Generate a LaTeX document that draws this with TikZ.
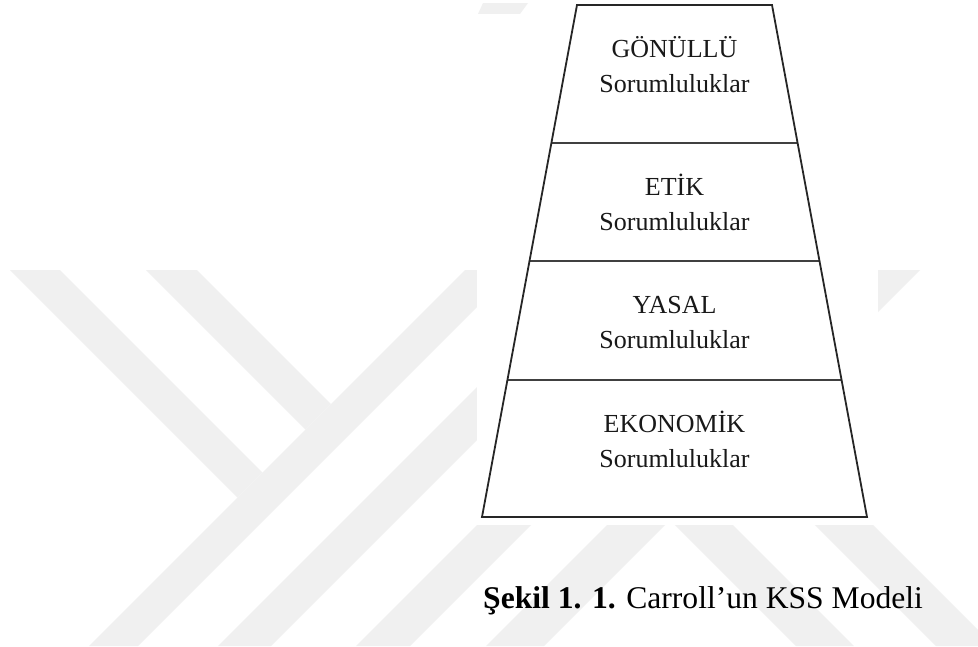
\documentclass[tikz,border=0pt]{standalone}
\usepackage{fontspec}
\setmainfont{Liberation Serif}
\begin{document}
\begin{tikzpicture}[x=1pt,y=-1pt,
  wm/.style={fill=black!6, draw=none},
  lbl/.style={font=\fontsize{26}{30}\selectfont, text=black!90, anchor=base, inner sep=0pt},
  edgeline/.style={draw=black!85, line width=1.8pt, line join=miter},
  divline/.style={draw=black!75, line width=2.2pt}]
\useasboundingbox (0,0) rectangle (978,646);
\fill[white] (0,0) rectangle (978,646);
% watermark
\begin{scope}
\clip (0,270) rectangle (978,646);
\fill[wm] (10,270) -- (60,270) -- (262.5,472.5) -- (237.5,497.5) -- cycle;
\fill[wm] (146,270) -- (197,270) -- (331,404) -- (305.5,429.5) -- cycle;
\fill[wm] (465,270) -- (514,270) -- (138,646) -- (89,646) -- cycle;
\fill[wm] (594,270) -- (647,270) -- (271,646) -- (218,646) -- cycle;
\fill[wm] (732,270) -- (786,270) -- (410,646) -- (356,646) -- cycle;
\fill[wm] (862,270) -- (920,270) -- (544,646) -- (486,646) -- cycle;
\fill[wm] (580,430) -- (638,430) -- (854,646) -- (796,646) -- cycle;
\fill[wm] (720,430) -- (778,430) -- (994,646) -- (936,646) -- cycle;
\end{scope}
\fill[wm] (483,3) -- (528,3) -- (520,14) -- (478,14) -- cycle;
\fill[white] (477,14) rectangle (878,525);
% pyramid
\coordinate (tl) at (577,5);
\coordinate (tr) at (772,5);
\coordinate (bl) at (482,517);
\coordinate (br) at (867,517);
\coordinate (l1) at (551.4,143);
\coordinate (r1) at (797.6,143);
\coordinate (l2) at (529.5,261);
\coordinate (r2) at (819.5,261);
\coordinate (l3) at (507.4,380);
\coordinate (r3) at (841.6,380);
\draw[divline] (l1) -- (r1);
\draw[divline] (l2) -- (r2);
\draw[divline] (l3) -- (r3);
\draw[edgeline] (tl) -- (tr) -- (br) -- (bl) -- cycle;
\node[lbl] (t1) at (674.5,57) {GÖNÜLLÜ};
\node[lbl] (s1) at (674.5,92) {Sorumluluklar};
\node[lbl] (t2) at (674.5,195.5) {ETİK};
\node[lbl] (s2) at (674.5,230.5) {Sorumluluklar};
\node[lbl] (t3) at (674.5,313.5) {YASAL};
\node[lbl] (s3) at (674.5,348.5) {Sorumluluklar};
\node[lbl] (t4) at (674.5,432) {EKONOMİK};
\node[lbl] (s4) at (674.5,467) {Sorumluluklar};
% caption
\node[anchor=base west, inner sep=0pt, font=\fontsize{31.6}{38}\selectfont] (cap) at (483,608) {\textbf{Şekil 1. 1.} Carroll’un KSS Modeli};
\end{tikzpicture}
\end{document}
